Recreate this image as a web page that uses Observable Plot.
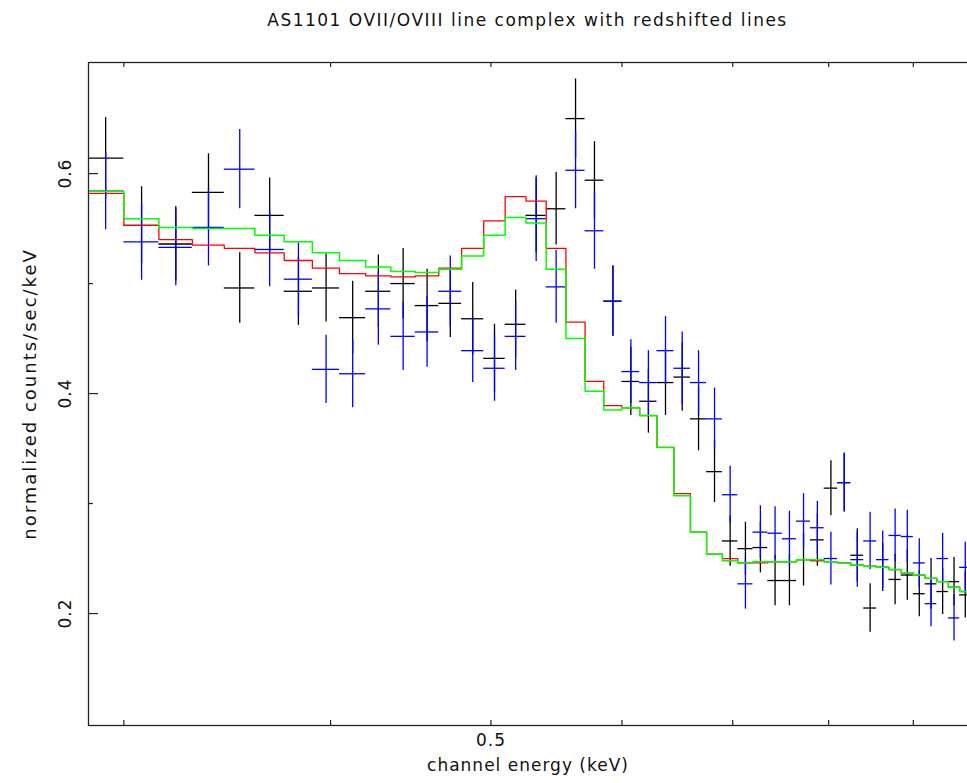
<!DOCTYPE html>
<html><head><meta charset="utf-8">
<script src="https://cdn.jsdelivr.net/npm/d3@7"></script>
<script src="https://cdn.jsdelivr.net/npm/@observablehq/plot@0.6"></script>
<style>
html,body{margin:0;padding:0;background:#fff;overflow:hidden;}
#title{height:40px;line-height:40px;padding-left:88px;text-align:center;font-family:"DejaVu Sans";font-size:17px;letter-spacing:1.5px;color:#111;white-space:nowrap;}
</style></head><body>
<div id="title">AS1101 OVII/OVIII line complex with redshifted lines</div>
<div id="chart"></div>
<script>
// channel energy bin centres (keV) and half width
const energy = [0.2925,0.3075,0.3225,0.3375,0.3525,0.3675,0.3825,0.3975,0.4125,0.4275,0.4425,0.4575,0.4725,0.4875,0.5025,0.5175,0.5325,0.5475,0.5625,0.5775,0.5925,0.6075,0.6225,0.6375,0.6525,0.6675,0.6825,0.6975,0.7125,0.7275,0.7425,0.7575,0.7725,0.7875,0.8025,0.8175,0.8325,0.8475,0.8625,0.8775,0.8925,0.9075,0.9225,0.9375,0.9525,0.9675];
const binHalfWidth = 0.0075;

// data set 1 (black)
const blackRate = [0.614,0.553,0.536,0.583,0.496,0.562,0.493,0.496,0.469,0.493,0.500,0.480,0.482,0.468,0.432,0.463,0.562,0.568,0.650,0.594,0.484,0.411,0.393,0.410,0.415,0.377,0.329,0.266,0.259,0.260,0.230,0.230,0.249,0.267,0.314,0.319,0.253,0.205,0.242,0.231,0.235,0.218,0.227,0.220,0.229,0.217];
const blackErr = [0.037,0.035,0.034,0.035,0.032,0.034,0.031,0.031,0.033,0.033,0.032,0.033,0.031,0.033,0.031,0.031,0.034,0.033,0.036,0.035,0.032,0.031,0.029,0.030,0.031,0.029,0.028,0.023,0.024,0.023,0.023,0.023,0.024,0.024,0.025,0.026,0.024,0.022,0.022,0.023,0.023,0.021,0.023,0.021,0.022,0.021];

// data set 2 (blue)
const blueRate = [0.584,0.538,0.533,0.551,0.604,0.531,0.504,0.422,0.418,0.477,0.452,0.456,0.493,0.439,0.423,0.452,0.559,0.497,0.603,0.548,0.484,0.420,0.410,0.439,0.423,0.410,0.377,0.308,0.227,0.274,0.273,0.268,0.284,0.278,0.250,0.319,0.249,0.266,0.249,0.271,0.270,0.246,0.209,0.250,0.196,0.242];
const blueErr = [0.035,0.035,0.035,0.035,0.036,0.034,0.033,0.031,0.031,0.033,0.031,0.032,0.032,0.029,0.030,0.031,0.039,0.033,0.035,0.035,0.032,0.029,0.029,0.031,0.033,0.029,0.028,0.026,0.023,0.024,0.024,0.025,0.025,0.024,0.024,0.027,0.025,0.026,0.026,0.024,0.024,0.022,0.021,0.023,0.021,0.023];

// models
const redModel = [0.582,0.553,0.540,0.535,0.532,0.528,0.521,0.514,0.509,0.507,0.506,0.507,0.514,0.532,0.557,0.579,0.575,0.532,0.465,0.411,0.389,0.387,0.380,0.351,0.309,0.274,0.254,0.250,0.246,0.246,0.247,0.247,0.249,0.248,0.247,0.246,0.244,0.243,0.242,0.240,0.237,0.235,0.232,0.229,0.224,0.220];
const greenModel = [0.584,0.559,0.551,0.550,0.550,0.544,0.538,0.528,0.521,0.515,0.511,0.510,0.513,0.525,0.544,0.560,0.555,0.513,0.450,0.402,0.385,0.387,0.380,0.351,0.307,0.274,0.254,0.248,0.246,0.247,0.247,0.247,0.249,0.249,0.247,0.246,0.244,0.243,0.242,0.240,0.237,0.235,0.232,0.229,0.224,0.220];

// axis ticks
const xTicks = [0.3,0.4,0.5,0.6,0.7,0.8,0.9];
const xTickLabels = [0.5];
const yMajorTicks = [0.2,0.4,0.6];
const yMinorTicks = [0.3,0.5];
const xLabel = "channel energy (keV)";
const yLabel = "normalized counts/sec/keV";

const W = 967, H = 743, mL = 88, mR = -10, mT = 22, mB = 58;
const innerW = W - mL - mR, innerH = H - mT - mB;

const pts = (rate, err) => energy.map((e, i) => ({x: e, x1: e - binHalfWidth, x2: e + binHalfWidth, y: rate[i], y1: rate[i] - err[i], y2: rate[i] + err[i]}));
const steps = (model) => energy.flatMap((e, i) => [{x: e - binHalfWidth, y: model[i]}, {x: e + binHalfWidth, y: model[i]}]);
const black = pts(blackRate, blackErr), blue = pts(blueRate, blueErr);
const sw = 1.3;

const chart = Plot.plot({
  width: W, height: H, marginLeft: mL, marginRight: mR, marginTop: mT, marginBottom: mB,
  x: {type: "log", domain: [0.2856, 0.9841], axis: null},
  y: {domain: [0.0982, 0.7010], axis: null},
  style: {fontFamily: "DejaVu Sans", fontSize: "17px", background: "#fff", color: "#111", letterSpacing: "1px"},
  marks: [
    Plot.ruleY(black, {y: "y", x1: "x1", x2: "x2", stroke: "#000", strokeWidth: sw, clip: true}),
    Plot.ruleX(black, {x: "x", y1: "y1", y2: "y2", stroke: "#000", strokeWidth: sw, clip: true}),
    Plot.ruleY(blue, {y: "y", x1: "x1", x2: "x2", stroke: "#0000ff", strokeWidth: sw, clip: true}),
    Plot.ruleX(blue, {x: "x", y1: "y1", y2: "y2", stroke: "#0000ff", strokeWidth: sw, clip: true}),
    Plot.line(steps(redModel), {x: "x", y: "y", stroke: "#ff0000", strokeWidth: sw, clip: true}),
    Plot.line(steps(greenModel), {x: "x", y: "y", stroke: "#00ff00", strokeWidth: 1.5, clip: true}),
    Plot.frame({stroke: "#222", strokeWidth: 1.3}),
    Plot.tickX(xTicks, {x: d => d, insetTop: innerH - 5, stroke: "#222", strokeWidth: 1.2}),
    Plot.tickX(xTicks, {x: d => d, insetBottom: innerH - 5, stroke: "#222", strokeWidth: 1.2}),
    Plot.tickY(yMajorTicks, {y: d => d, insetRight: innerW - 10, stroke: "#222", strokeWidth: 1.2}),
    Plot.tickY(yMinorTicks, {y: d => d, insetRight: innerW - 5, stroke: "#222", strokeWidth: 1.2}),
    Plot.text(xTickLabels, {x: d => d, frameAnchor: "bottom", dy: 20, text: d => d.toFixed(1), fill: "#111"}),
    Plot.text(yMajorTicks, {y: d => d, frameAnchor: "left", dx: -23, rotate: -90, textAnchor: "middle", text: d => d.toFixed(1), fill: "#111"}),
    Plot.text([xLabel], {frameAnchor: "bottom", dy: 45, dx: -5, text: d => d, fill: "#111"}),
    Plot.text([yLabel], {frameAnchor: "left", dx: -58, rotate: -90, textAnchor: "middle", text: d => d, fill: "#111", fontSize: 18})
  ]
});
// wider spacing for the y-axis title, as in the reference
for (const t of chart.querySelectorAll("text")) {
  if (t.textContent === yLabel) t.style.letterSpacing = "2px";
}
document.getElementById("chart").appendChild(chart);
</script>
</body></html>
